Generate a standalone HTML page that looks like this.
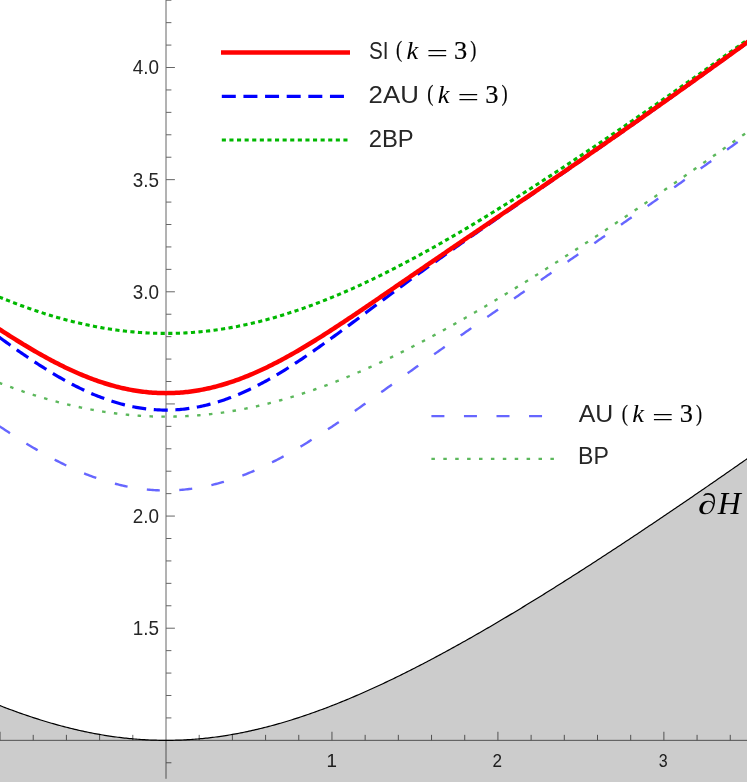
<!DOCTYPE html>
<html><head><meta charset="utf-8"><title>Chart</title>
<style>
html,body{margin:0;padding:0;background:#ffffff;}
body{width:747px;height:782px;overflow:hidden;font-family:"Liberation Sans",sans-serif;}
svg{display:block;}
</style></head><body>
<svg width="747" height="782" viewBox="0 0 747 782">
<rect x="0" y="0" width="747" height="782" fill="#ffffff"/>
<g stroke="#666666" stroke-width="1" fill="none">
<line x1="0" y1="740.35" x2="747" y2="740.35"/>
<line x1="166.0" y1="0" x2="166.0" y2="778.8"/>
<line x1="166.00" y1="762.78" x2="171.40" y2="762.78"/>
<line x1="166.00" y1="717.92" x2="171.40" y2="717.92"/>
<line x1="166.00" y1="695.49" x2="171.40" y2="695.49"/>
<line x1="166.00" y1="673.07" x2="171.40" y2="673.07"/>
<line x1="166.00" y1="650.64" x2="171.40" y2="650.64"/>
<line x1="166.00" y1="628.21" x2="174.90" y2="628.21"/>
<line x1="166.00" y1="605.78" x2="171.40" y2="605.78"/>
<line x1="166.00" y1="583.35" x2="171.40" y2="583.35"/>
<line x1="166.00" y1="560.93" x2="171.40" y2="560.93"/>
<line x1="166.00" y1="538.50" x2="171.40" y2="538.50"/>
<line x1="166.00" y1="516.07" x2="174.90" y2="516.07"/>
<line x1="166.00" y1="493.64" x2="171.40" y2="493.64"/>
<line x1="166.00" y1="471.21" x2="171.40" y2="471.21"/>
<line x1="166.00" y1="448.79" x2="171.40" y2="448.79"/>
<line x1="166.00" y1="426.36" x2="171.40" y2="426.36"/>
<line x1="166.00" y1="403.93" x2="174.90" y2="403.93"/>
<line x1="166.00" y1="381.50" x2="171.40" y2="381.50"/>
<line x1="166.00" y1="359.07" x2="171.40" y2="359.07"/>
<line x1="166.00" y1="336.65" x2="171.40" y2="336.65"/>
<line x1="166.00" y1="314.22" x2="171.40" y2="314.22"/>
<line x1="166.00" y1="291.79" x2="174.90" y2="291.79"/>
<line x1="166.00" y1="269.36" x2="171.40" y2="269.36"/>
<line x1="166.00" y1="246.93" x2="171.40" y2="246.93"/>
<line x1="166.00" y1="224.51" x2="171.40" y2="224.51"/>
<line x1="166.00" y1="202.08" x2="171.40" y2="202.08"/>
<line x1="166.00" y1="179.65" x2="174.90" y2="179.65"/>
<line x1="166.00" y1="157.22" x2="171.40" y2="157.22"/>
<line x1="166.00" y1="134.79" x2="171.40" y2="134.79"/>
<line x1="166.00" y1="112.37" x2="171.40" y2="112.37"/>
<line x1="166.00" y1="89.94" x2="171.40" y2="89.94"/>
<line x1="166.00" y1="67.51" x2="174.90" y2="67.51"/>
<line x1="166.00" y1="45.08" x2="171.40" y2="45.08"/>
<line x1="166.00" y1="22.65" x2="171.40" y2="22.65"/>
<line x1="166.00" y1="0.23" x2="171.40" y2="0.23"/>
<line x1="0.04" y1="740.35" x2="0.04" y2="731.75"/>
<line x1="33.23" y1="740.35" x2="33.23" y2="734.85"/>
<line x1="66.42" y1="740.35" x2="66.42" y2="734.85"/>
<line x1="99.62" y1="740.35" x2="99.62" y2="734.85"/>
<line x1="132.81" y1="740.35" x2="132.81" y2="734.85"/>
<line x1="199.19" y1="740.35" x2="199.19" y2="734.85"/>
<line x1="232.38" y1="740.35" x2="232.38" y2="734.85"/>
<line x1="265.58" y1="740.35" x2="265.58" y2="734.85"/>
<line x1="298.77" y1="740.35" x2="298.77" y2="734.85"/>
<line x1="331.96" y1="740.35" x2="331.96" y2="731.75"/>
<line x1="365.15" y1="740.35" x2="365.15" y2="734.85"/>
<line x1="398.34" y1="740.35" x2="398.34" y2="734.85"/>
<line x1="431.54" y1="740.35" x2="431.54" y2="734.85"/>
<line x1="464.73" y1="740.35" x2="464.73" y2="734.85"/>
<line x1="497.92" y1="740.35" x2="497.92" y2="731.75"/>
<line x1="531.11" y1="740.35" x2="531.11" y2="734.85"/>
<line x1="564.30" y1="740.35" x2="564.30" y2="734.85"/>
<line x1="597.50" y1="740.35" x2="597.50" y2="734.85"/>
<line x1="630.69" y1="740.35" x2="630.69" y2="734.85"/>
<line x1="663.88" y1="740.35" x2="663.88" y2="731.75"/>
<line x1="697.07" y1="740.35" x2="697.07" y2="734.85"/>
<line x1="730.26" y1="740.35" x2="730.26" y2="734.85"/>
</g>
<g opacity="0.999">
<text transform="translate(132.74,635.11) scale(0.9540,1)" font-family="Liberation Sans" font-style="normal" font-size="19.80" fill="#262626" style="font-kerning:none">1.5</text>
<text transform="translate(132.68,522.97) scale(0.9540,1)" font-family="Liberation Sans" font-style="normal" font-size="19.80" fill="#262626" style="font-kerning:none">2.0</text>
<text transform="translate(132.68,298.69) scale(0.9540,1)" font-family="Liberation Sans" font-style="normal" font-size="19.80" fill="#262626" style="font-kerning:none">3.0</text>
<text transform="translate(132.74,186.55) scale(0.9540,1)" font-family="Liberation Sans" font-style="normal" font-size="19.80" fill="#262626" style="font-kerning:none">3.5</text>
<text transform="translate(132.68,74.41) scale(0.9540,1)" font-family="Liberation Sans" font-style="normal" font-size="19.80" fill="#262626" style="font-kerning:none">4.0</text>
<text transform="translate(326.5,766.5)" font-family="Liberation Sans" font-size="18.8" fill="#262626">1</text>
<text transform="translate(492.44,766.50) scale(0.9196,1)" font-family="Liberation Sans" font-style="normal" font-size="18.62" fill="#262626" style="font-kerning:none" >2</text>
<text transform="translate(658.69,766.62) scale(0.8533,1)" font-family="Liberation Sans" font-style="normal" font-size="18.79" fill="#262626" style="font-kerning:none" >3</text>
</g>
<path d="M-3.28,784 L-3.28,704.35 L-1.62,705.00 L0.04,705.65 L1.70,706.30 L3.36,706.94 L5.02,707.57 L6.68,708.20 L8.34,708.83 L10.00,709.45 L11.66,710.06 L13.32,710.67 L14.98,711.28 L16.64,711.88 L18.30,712.47 L19.96,713.06 L21.61,713.65 L23.27,714.23 L24.93,714.80 L26.59,715.37 L28.25,715.93 L29.91,716.49 L31.57,717.04 L33.23,717.58 L34.89,718.12 L36.55,718.66 L38.21,719.19 L39.87,719.71 L41.53,720.23 L43.19,720.74 L44.85,721.24 L46.51,721.74 L48.17,722.24 L49.83,722.73 L51.49,723.21 L53.15,723.68 L54.81,724.15 L56.47,724.62 L58.13,725.08 L59.79,725.53 L61.45,725.97 L63.10,726.41 L64.76,726.85 L66.42,727.27 L68.08,727.70 L69.74,728.11 L71.40,728.52 L73.06,728.92 L74.72,729.31 L76.38,729.70 L78.04,730.08 L79.70,730.46 L81.36,730.83 L83.02,731.19 L84.68,731.55 L86.34,731.90 L88.00,732.24 L89.66,732.58 L91.32,732.90 L92.98,733.23 L94.64,733.54 L96.30,733.85 L97.96,734.15 L99.62,734.45 L101.28,734.73 L102.94,735.02 L104.59,735.29 L106.25,735.56 L107.91,735.82 L109.57,736.07 L111.23,736.32 L112.89,736.55 L114.55,736.79 L116.21,737.01 L117.87,737.23 L119.53,737.44 L121.19,737.64 L122.85,737.84 L124.51,738.03 L126.17,738.21 L127.83,738.38 L129.49,738.55 L131.15,738.71 L132.81,738.86 L134.47,739.00 L136.13,739.14 L137.79,739.27 L139.45,739.40 L141.11,739.51 L142.77,739.62 L144.43,739.72 L146.08,739.81 L147.74,739.90 L149.40,739.98 L151.06,740.05 L152.72,740.11 L154.38,740.17 L156.04,740.22 L157.70,740.26 L159.36,740.29 L161.02,740.32 L162.68,740.34 L164.34,740.35 L166.00,740.35 L167.66,740.35 L169.32,740.34 L170.98,740.32 L172.64,740.29 L174.30,740.26 L175.96,740.22 L177.62,740.17 L179.28,740.11 L180.94,740.05 L182.60,739.98 L184.26,739.90 L185.92,739.81 L187.57,739.72 L189.23,739.62 L190.89,739.51 L192.55,739.40 L194.21,739.27 L195.87,739.14 L197.53,739.00 L199.19,738.86 L200.85,738.71 L202.51,738.55 L204.17,738.38 L205.83,738.21 L207.49,738.03 L209.15,737.84 L210.81,737.64 L212.47,737.44 L214.13,737.23 L215.79,737.01 L217.45,736.79 L219.11,736.55 L220.77,736.32 L222.43,736.07 L224.09,735.82 L225.75,735.56 L227.41,735.29 L229.06,735.02 L230.72,734.73 L232.38,734.45 L234.04,734.15 L235.70,733.85 L237.36,733.54 L239.02,733.23 L240.68,732.90 L242.34,732.58 L244.00,732.24 L245.66,731.90 L247.32,731.55 L248.98,731.19 L250.64,730.83 L252.30,730.46 L253.96,730.08 L255.62,729.70 L257.28,729.31 L258.94,728.92 L260.60,728.52 L262.26,728.11 L263.92,727.70 L265.58,727.27 L267.24,726.85 L268.90,726.41 L270.55,725.97 L272.21,725.53 L273.87,725.08 L275.53,724.62 L277.19,724.15 L278.85,723.68 L280.51,723.21 L282.17,722.73 L283.83,722.24 L285.49,721.74 L287.15,721.24 L288.81,720.74 L290.47,720.23 L292.13,719.71 L293.79,719.19 L295.45,718.66 L297.11,718.12 L298.77,717.58 L300.43,717.04 L302.09,716.49 L303.75,715.93 L305.41,715.37 L307.07,714.80 L308.73,714.23 L310.39,713.65 L312.04,713.06 L313.70,712.47 L315.36,711.88 L317.02,711.28 L318.68,710.67 L320.34,710.06 L322.00,709.45 L323.66,708.83 L325.32,708.20 L326.98,707.57 L328.64,706.94 L330.30,706.30 L331.96,705.65 L333.62,705.00 L335.28,704.35 L336.94,703.69 L338.60,703.03 L340.26,702.36 L341.92,701.68 L343.58,701.00 L345.24,700.32 L346.90,699.63 L348.56,698.94 L350.22,698.25 L351.88,697.55 L353.53,696.84 L355.19,696.13 L356.85,695.42 L358.51,694.70 L360.17,693.98 L361.83,693.25 L363.49,692.52 L365.15,691.78 L366.81,691.04 L368.47,690.30 L370.13,689.55 L371.79,688.80 L373.45,688.04 L375.11,687.28 L376.77,686.52 L378.43,685.75 L380.09,684.98 L381.75,684.21 L383.41,683.43 L385.07,682.64 L386.73,681.86 L388.39,681.07 L390.05,680.27 L391.71,679.47 L393.37,678.67 L395.02,677.87 L396.68,677.06 L398.34,676.25 L400.00,675.43 L401.66,674.61 L403.32,673.79 L404.98,672.96 L406.64,672.13 L408.30,671.30 L409.96,670.46 L411.62,669.62 L413.28,668.78 L414.94,667.94 L416.60,667.09 L418.26,666.23 L419.92,665.38 L421.58,664.52 L423.24,663.66 L424.90,662.79 L426.56,661.92 L428.22,661.05 L429.88,660.18 L431.54,659.30 L433.20,658.42 L434.86,657.54 L436.51,656.65 L438.17,655.76 L439.83,654.87 L441.49,653.98 L443.15,653.08 L444.81,652.18 L446.47,651.28 L448.13,650.37 L449.79,649.46 L451.45,648.55 L453.11,647.64 L454.77,646.72 L456.43,645.80 L458.09,644.88 L459.75,643.96 L461.41,643.03 L463.07,642.10 L464.73,641.17 L466.39,640.23 L468.05,639.30 L469.71,638.36 L471.37,637.42 L473.03,636.47 L474.69,635.53 L476.35,634.58 L478.00,633.63 L479.66,632.67 L481.32,631.72 L482.98,630.76 L484.64,629.80 L486.30,628.84 L487.96,627.87 L489.62,626.90 L491.28,625.94 L492.94,624.96 L494.60,623.99 L496.26,623.01 L497.92,622.04 L499.58,621.06 L501.24,620.07 L502.90,619.09 L504.56,618.10 L506.22,617.12 L507.88,616.13 L509.54,615.13 L511.20,614.14 L512.86,613.14 L514.52,612.15 L516.18,611.15 L517.84,610.14 L519.49,609.14 L521.15,608.14 L522.81,607.13 L524.47,606.12 L526.13,605.11 L527.79,604.09 L529.45,603.08 L531.11,602.06 L532.77,601.04 L534.43,600.02 L536.09,599.00 L537.75,597.98 L539.41,596.95 L541.07,595.93 L542.73,594.90 L544.39,593.87 L546.05,592.84 L547.71,591.80 L549.37,590.77 L551.03,589.73 L552.69,588.69 L554.35,587.65 L556.01,586.61 L557.67,585.57 L559.33,584.52 L560.98,583.48 L562.64,582.43 L564.30,581.38 L565.96,580.33 L567.62,579.28 L569.28,578.22 L570.94,577.17 L572.60,576.11 L574.26,575.05 L575.92,573.99 L577.58,572.93 L579.24,571.87 L580.90,570.81 L582.56,569.74 L584.22,568.68 L585.88,567.61 L587.54,566.54 L589.20,565.47 L590.86,564.40 L592.52,563.32 L594.18,562.25 L595.84,561.17 L597.50,560.10 L599.16,559.02 L600.82,557.94 L602.47,556.86 L604.13,555.78 L605.79,554.69 L607.45,553.61 L609.11,552.52 L610.77,551.44 L612.43,550.35 L614.09,549.26 L615.75,548.17 L617.41,547.08 L619.07,545.98 L620.73,544.89 L622.39,543.79 L624.05,542.70 L625.71,541.60 L627.37,540.50 L629.03,539.40 L630.69,538.30 L632.35,537.20 L634.01,536.10 L635.67,534.99 L637.33,533.89 L638.99,532.78 L640.65,531.67 L642.31,530.57 L643.96,529.46 L645.62,528.35 L647.28,527.24 L648.94,526.12 L650.60,525.01 L652.26,523.90 L653.92,522.78 L655.58,521.67 L657.24,520.55 L658.90,519.43 L660.56,518.31 L662.22,517.19 L663.88,516.07 L665.54,514.95 L667.20,513.83 L668.86,512.70 L670.52,511.58 L672.18,510.45 L673.84,509.33 L675.50,508.20 L677.16,507.07 L678.82,505.94 L680.48,504.81 L682.14,503.68 L683.80,502.55 L685.45,501.42 L687.11,500.28 L688.77,499.15 L690.43,498.01 L692.09,496.88 L693.75,495.74 L695.41,494.60 L697.07,493.46 L698.73,492.32 L700.39,491.18 L702.05,490.04 L703.71,488.90 L705.37,487.76 L707.03,486.62 L708.69,485.47 L710.35,484.33 L712.01,483.18 L713.67,482.04 L715.33,480.89 L716.99,479.74 L718.65,478.59 L720.31,477.44 L721.97,476.29 L723.63,475.14 L725.29,473.99 L726.94,472.84 L728.60,471.69 L730.26,470.53 L731.92,469.38 L733.58,468.23 L735.24,467.07 L736.90,465.91 L738.56,464.76 L740.22,463.60 L741.88,462.44 L743.54,461.28 L745.20,460.12 L746.86,458.96 L748.52,457.80 L750.18,456.64 L750.18,784 Z" fill="#000000" fill-opacity="0.2"/>
<path d="M-3.28,704.35 L-1.62,705.00 L0.04,705.65 L1.70,706.30 L3.36,706.94 L5.02,707.57 L6.68,708.20 L8.34,708.83 L10.00,709.45 L11.66,710.06 L13.32,710.67 L14.98,711.28 L16.64,711.88 L18.30,712.47 L19.96,713.06 L21.61,713.65 L23.27,714.23 L24.93,714.80 L26.59,715.37 L28.25,715.93 L29.91,716.49 L31.57,717.04 L33.23,717.58 L34.89,718.12 L36.55,718.66 L38.21,719.19 L39.87,719.71 L41.53,720.23 L43.19,720.74 L44.85,721.24 L46.51,721.74 L48.17,722.24 L49.83,722.73 L51.49,723.21 L53.15,723.68 L54.81,724.15 L56.47,724.62 L58.13,725.08 L59.79,725.53 L61.45,725.97 L63.10,726.41 L64.76,726.85 L66.42,727.27 L68.08,727.70 L69.74,728.11 L71.40,728.52 L73.06,728.92 L74.72,729.31 L76.38,729.70 L78.04,730.08 L79.70,730.46 L81.36,730.83 L83.02,731.19 L84.68,731.55 L86.34,731.90 L88.00,732.24 L89.66,732.58 L91.32,732.90 L92.98,733.23 L94.64,733.54 L96.30,733.85 L97.96,734.15 L99.62,734.45 L101.28,734.73 L102.94,735.02 L104.59,735.29 L106.25,735.56 L107.91,735.82 L109.57,736.07 L111.23,736.32 L112.89,736.55 L114.55,736.79 L116.21,737.01 L117.87,737.23 L119.53,737.44 L121.19,737.64 L122.85,737.84 L124.51,738.03 L126.17,738.21 L127.83,738.38 L129.49,738.55 L131.15,738.71 L132.81,738.86 L134.47,739.00 L136.13,739.14 L137.79,739.27 L139.45,739.40 L141.11,739.51 L142.77,739.62 L144.43,739.72 L146.08,739.81 L147.74,739.90 L149.40,739.98 L151.06,740.05 L152.72,740.11 L154.38,740.17 L156.04,740.22 L157.70,740.26 L159.36,740.29 L161.02,740.32 L162.68,740.34 L164.34,740.35 L166.00,740.35 L167.66,740.35 L169.32,740.34 L170.98,740.32 L172.64,740.29 L174.30,740.26 L175.96,740.22 L177.62,740.17 L179.28,740.11 L180.94,740.05 L182.60,739.98 L184.26,739.90 L185.92,739.81 L187.57,739.72 L189.23,739.62 L190.89,739.51 L192.55,739.40 L194.21,739.27 L195.87,739.14 L197.53,739.00 L199.19,738.86 L200.85,738.71 L202.51,738.55 L204.17,738.38 L205.83,738.21 L207.49,738.03 L209.15,737.84 L210.81,737.64 L212.47,737.44 L214.13,737.23 L215.79,737.01 L217.45,736.79 L219.11,736.55 L220.77,736.32 L222.43,736.07 L224.09,735.82 L225.75,735.56 L227.41,735.29 L229.06,735.02 L230.72,734.73 L232.38,734.45 L234.04,734.15 L235.70,733.85 L237.36,733.54 L239.02,733.23 L240.68,732.90 L242.34,732.58 L244.00,732.24 L245.66,731.90 L247.32,731.55 L248.98,731.19 L250.64,730.83 L252.30,730.46 L253.96,730.08 L255.62,729.70 L257.28,729.31 L258.94,728.92 L260.60,728.52 L262.26,728.11 L263.92,727.70 L265.58,727.27 L267.24,726.85 L268.90,726.41 L270.55,725.97 L272.21,725.53 L273.87,725.08 L275.53,724.62 L277.19,724.15 L278.85,723.68 L280.51,723.21 L282.17,722.73 L283.83,722.24 L285.49,721.74 L287.15,721.24 L288.81,720.74 L290.47,720.23 L292.13,719.71 L293.79,719.19 L295.45,718.66 L297.11,718.12 L298.77,717.58 L300.43,717.04 L302.09,716.49 L303.75,715.93 L305.41,715.37 L307.07,714.80 L308.73,714.23 L310.39,713.65 L312.04,713.06 L313.70,712.47 L315.36,711.88 L317.02,711.28 L318.68,710.67 L320.34,710.06 L322.00,709.45 L323.66,708.83 L325.32,708.20 L326.98,707.57 L328.64,706.94 L330.30,706.30 L331.96,705.65 L333.62,705.00 L335.28,704.35 L336.94,703.69 L338.60,703.03 L340.26,702.36 L341.92,701.68 L343.58,701.00 L345.24,700.32 L346.90,699.63 L348.56,698.94 L350.22,698.25 L351.88,697.55 L353.53,696.84 L355.19,696.13 L356.85,695.42 L358.51,694.70 L360.17,693.98 L361.83,693.25 L363.49,692.52 L365.15,691.78 L366.81,691.04 L368.47,690.30 L370.13,689.55 L371.79,688.80 L373.45,688.04 L375.11,687.28 L376.77,686.52 L378.43,685.75 L380.09,684.98 L381.75,684.21 L383.41,683.43 L385.07,682.64 L386.73,681.86 L388.39,681.07 L390.05,680.27 L391.71,679.47 L393.37,678.67 L395.02,677.87 L396.68,677.06 L398.34,676.25 L400.00,675.43 L401.66,674.61 L403.32,673.79 L404.98,672.96 L406.64,672.13 L408.30,671.30 L409.96,670.46 L411.62,669.62 L413.28,668.78 L414.94,667.94 L416.60,667.09 L418.26,666.23 L419.92,665.38 L421.58,664.52 L423.24,663.66 L424.90,662.79 L426.56,661.92 L428.22,661.05 L429.88,660.18 L431.54,659.30 L433.20,658.42 L434.86,657.54 L436.51,656.65 L438.17,655.76 L439.83,654.87 L441.49,653.98 L443.15,653.08 L444.81,652.18 L446.47,651.28 L448.13,650.37 L449.79,649.46 L451.45,648.55 L453.11,647.64 L454.77,646.72 L456.43,645.80 L458.09,644.88 L459.75,643.96 L461.41,643.03 L463.07,642.10 L464.73,641.17 L466.39,640.23 L468.05,639.30 L469.71,638.36 L471.37,637.42 L473.03,636.47 L474.69,635.53 L476.35,634.58 L478.00,633.63 L479.66,632.67 L481.32,631.72 L482.98,630.76 L484.64,629.80 L486.30,628.84 L487.96,627.87 L489.62,626.90 L491.28,625.94 L492.94,624.96 L494.60,623.99 L496.26,623.01 L497.92,622.04 L499.58,621.06 L501.24,620.07 L502.90,619.09 L504.56,618.10 L506.22,617.12 L507.88,616.13 L509.54,615.13 L511.20,614.14 L512.86,613.14 L514.52,612.15 L516.18,611.15 L517.84,610.14 L519.49,609.14 L521.15,608.14 L522.81,607.13 L524.47,606.12 L526.13,605.11 L527.79,604.09 L529.45,603.08 L531.11,602.06 L532.77,601.04 L534.43,600.02 L536.09,599.00 L537.75,597.98 L539.41,596.95 L541.07,595.93 L542.73,594.90 L544.39,593.87 L546.05,592.84 L547.71,591.80 L549.37,590.77 L551.03,589.73 L552.69,588.69 L554.35,587.65 L556.01,586.61 L557.67,585.57 L559.33,584.52 L560.98,583.48 L562.64,582.43 L564.30,581.38 L565.96,580.33 L567.62,579.28 L569.28,578.22 L570.94,577.17 L572.60,576.11 L574.26,575.05 L575.92,573.99 L577.58,572.93 L579.24,571.87 L580.90,570.81 L582.56,569.74 L584.22,568.68 L585.88,567.61 L587.54,566.54 L589.20,565.47 L590.86,564.40 L592.52,563.32 L594.18,562.25 L595.84,561.17 L597.50,560.10 L599.16,559.02 L600.82,557.94 L602.47,556.86 L604.13,555.78 L605.79,554.69 L607.45,553.61 L609.11,552.52 L610.77,551.44 L612.43,550.35 L614.09,549.26 L615.75,548.17 L617.41,547.08 L619.07,545.98 L620.73,544.89 L622.39,543.79 L624.05,542.70 L625.71,541.60 L627.37,540.50 L629.03,539.40 L630.69,538.30 L632.35,537.20 L634.01,536.10 L635.67,534.99 L637.33,533.89 L638.99,532.78 L640.65,531.67 L642.31,530.57 L643.96,529.46 L645.62,528.35 L647.28,527.24 L648.94,526.12 L650.60,525.01 L652.26,523.90 L653.92,522.78 L655.58,521.67 L657.24,520.55 L658.90,519.43 L660.56,518.31 L662.22,517.19 L663.88,516.07 L665.54,514.95 L667.20,513.83 L668.86,512.70 L670.52,511.58 L672.18,510.45 L673.84,509.33 L675.50,508.20 L677.16,507.07 L678.82,505.94 L680.48,504.81 L682.14,503.68 L683.80,502.55 L685.45,501.42 L687.11,500.28 L688.77,499.15 L690.43,498.01 L692.09,496.88 L693.75,495.74 L695.41,494.60 L697.07,493.46 L698.73,492.32 L700.39,491.18 L702.05,490.04 L703.71,488.90 L705.37,487.76 L707.03,486.62 L708.69,485.47 L710.35,484.33 L712.01,483.18 L713.67,482.04 L715.33,480.89 L716.99,479.74 L718.65,478.59 L720.31,477.44 L721.97,476.29 L723.63,475.14 L725.29,473.99 L726.94,472.84 L728.60,471.69 L730.26,470.53 L731.92,469.38 L733.58,468.23 L735.24,467.07 L736.90,465.91 L738.56,464.76 L740.22,463.60 L741.88,462.44 L743.54,461.28 L745.20,460.12 L746.86,458.96 L748.52,457.80 L750.18,456.64" fill="none" stroke="#000000" stroke-width="1.2"/>
<g fill="none" stroke-linecap="butt" stroke-linejoin="round">
<path d="M-6.60,380.53 L-4.94,381.19 L-3.28,381.84 L-1.62,382.49 L0.04,383.13 L1.70,383.76 L3.36,384.39 L5.02,385.02 L6.68,385.64 L8.34,386.25 L10.00,386.86 L11.66,387.47 L13.32,388.07 L14.98,388.66 L16.64,389.25 L18.30,389.83 L19.96,390.41 L21.61,390.98 L23.27,391.54 L24.93,392.10 L26.59,392.66 L28.25,393.21 L29.91,393.75 L31.57,394.29 L33.23,394.82 L34.89,395.34 L36.55,395.86 L38.21,396.38 L39.87,396.89 L41.53,397.39 L43.19,397.89 L44.85,398.38 L46.51,398.86 L48.17,399.34 L49.83,399.81 L51.49,400.28 L53.15,400.74 L54.81,401.19 L56.47,401.64 L58.13,402.08 L59.79,402.52 L61.45,402.95 L63.10,403.37 L64.76,403.79 L66.42,404.20 L68.08,404.61 L69.74,405.00 L71.40,405.40 L73.06,405.78 L74.72,406.16 L76.38,406.53 L78.04,406.90 L79.70,407.26 L81.36,407.61 L83.02,407.96 L84.68,408.30 L86.34,408.63 L88.00,408.96 L89.66,409.28 L91.32,409.60 L92.98,409.90 L94.64,410.20 L96.30,410.50 L97.96,410.79 L99.62,411.07 L101.28,411.34 L102.94,411.61 L104.59,411.87 L106.25,412.12 L107.91,412.37 L109.57,412.61 L111.23,412.84 L112.89,413.07 L114.55,413.29 L116.21,413.50 L117.87,413.71 L119.53,413.91 L121.19,414.10 L122.85,414.29 L124.51,414.46 L126.17,414.64 L127.83,414.80 L129.49,414.96 L131.15,415.11 L132.81,415.25 L134.47,415.39 L136.13,415.52 L137.79,415.64 L139.45,415.76 L141.11,415.87 L142.77,415.97 L144.43,416.06 L146.08,416.15 L147.74,416.23 L149.40,416.31 L151.06,416.37 L152.72,416.43 L154.38,416.49 L156.04,416.53 L157.70,416.57 L159.36,416.60 L161.02,416.63 L162.68,416.65 L164.34,416.66 L166.00,416.66 L167.66,416.66 L169.32,416.65 L170.98,416.63 L172.64,416.60 L174.30,416.57 L175.96,416.53 L177.62,416.49 L179.28,416.43 L180.94,416.37 L182.60,416.31 L184.26,416.23 L185.92,416.15 L187.57,416.06 L189.23,415.97 L190.89,415.87 L192.55,415.76 L194.21,415.64 L195.87,415.52 L197.53,415.39 L199.19,415.25 L200.85,415.11 L202.51,414.96 L204.17,414.80 L205.83,414.64 L207.49,414.46 L209.15,414.29 L210.81,414.10 L212.47,413.91 L214.13,413.71 L215.79,413.50 L217.45,413.29 L219.11,413.07 L220.77,412.84 L222.43,412.61 L224.09,412.37 L225.75,412.12 L227.41,411.87 L229.06,411.61 L230.72,411.34 L232.38,411.07 L234.04,410.79 L235.70,410.50 L237.36,410.20 L239.02,409.90 L240.68,409.60 L242.34,409.28 L244.00,408.96 L245.66,408.63 L247.32,408.30 L248.98,407.96 L250.64,407.61 L252.30,407.26 L253.96,406.90 L255.62,406.53 L257.28,406.16 L258.94,405.78 L260.60,405.40 L262.26,405.00 L263.92,404.61 L265.58,404.20 L267.24,403.79 L268.90,403.37 L270.55,402.95 L272.21,402.52 L273.87,402.08 L275.53,401.64 L277.19,401.19 L278.85,400.74 L280.51,400.28 L282.17,399.81 L283.83,399.34 L285.49,398.86 L287.15,398.38 L288.81,397.89 L290.47,397.39 L292.13,396.89 L293.79,396.38 L295.45,395.86 L297.11,395.34 L298.77,394.82 L300.43,394.29 L302.09,393.75 L303.75,393.21 L305.41,392.66 L307.07,392.10 L308.73,391.54 L310.39,390.98 L312.04,390.41 L313.70,389.83 L315.36,389.25 L317.02,388.66 L318.68,388.07 L320.34,387.47 L322.00,386.86 L323.66,386.25 L325.32,385.64 L326.98,385.02 L328.64,384.39 L330.30,383.76 L331.96,383.13 L333.62,382.49 L335.28,381.84 L336.94,381.19 L338.60,380.53 L340.26,379.87 L341.92,379.21 L343.58,378.53 L345.24,377.86 L346.90,377.18 L348.56,376.49 L350.22,375.80 L351.88,375.10 L353.53,374.40 L355.19,373.70 L356.85,372.99 L358.51,372.27 L360.17,371.55 L361.83,370.83 L363.49,370.10 L365.15,369.37 L366.81,368.63 L368.47,367.89 L370.13,367.14 L371.79,366.39 L373.45,365.64 L375.11,364.88 L376.77,364.11 L378.43,363.35 L380.09,362.57 L381.75,361.80 L383.41,361.02 L385.07,360.23 L386.73,359.44 L388.39,358.65 L390.05,357.85 L391.71,357.05 L393.37,356.24 L395.02,355.43 L396.68,354.62 L398.34,353.80 L400.00,352.98 L401.66,352.16 L403.32,351.33 L404.98,350.50 L406.64,349.66 L408.30,348.82 L409.96,347.98 L411.62,347.13 L413.28,346.28 L414.94,345.42 L416.60,344.56 L418.26,343.70 L419.92,342.84 L421.58,341.97 L423.24,341.10 L424.90,340.22 L426.56,339.34 L428.22,338.46 L429.88,337.58 L431.54,336.69 L433.20,335.79 L434.86,334.90 L436.51,334.00 L438.17,333.10 L439.83,332.19 L441.49,331.29 L443.15,330.37 L444.81,329.46 L446.47,328.54 L448.13,327.62 L449.79,326.70 L451.45,325.77 L453.11,324.84 L454.77,323.91 L456.43,322.98 L458.09,322.04 L459.75,321.10 L461.41,320.16 L463.07,319.21 L464.73,318.26 L466.39,317.31 L468.05,316.36 L469.71,315.40 L471.37,314.44 L473.03,313.48 L474.69,312.51 L476.35,311.55 L478.00,310.58 L479.66,309.60 L481.32,308.63 L482.98,307.65 L484.64,306.67 L486.30,305.69 L487.96,304.70 L489.62,303.72 L491.28,302.73 L492.94,301.74 L494.60,300.74 L496.26,299.75 L497.92,298.75 L499.58,297.75 L501.24,296.74 L502.90,295.74 L504.56,294.73 L506.22,293.72 L507.88,292.71 L509.54,291.70 L511.20,290.68 L512.86,289.66 L514.52,288.64 L516.18,287.62 L517.84,286.60 L519.49,285.57 L521.15,284.54 L522.81,283.51 L524.47,282.48 L526.13,281.45 L527.79,280.41 L529.45,279.37 L531.11,278.34 L532.77,277.29 L534.43,276.25 L536.09,275.21 L537.75,274.16 L539.41,273.11 L541.07,272.06 L542.73,271.01 L544.39,269.95 L546.05,268.90 L547.71,267.84 L549.37,266.78 L551.03,265.72 L552.69,264.66 L554.35,263.60 L556.01,262.53 L557.67,261.47 L559.33,260.40 L560.98,259.33 L562.64,258.26 L564.30,257.18 L565.96,256.11 L567.62,255.03 L569.28,253.95 L570.94,252.88 L572.60,251.80 L574.26,250.71 L575.92,249.63 L577.58,248.54 L579.24,247.46 L580.90,246.37 L582.56,245.28 L584.22,244.19 L585.88,243.10 L587.54,242.01 L589.20,240.91 L590.86,239.82 L592.52,238.72 L594.18,237.62 L595.84,236.52 L597.50,235.42 L599.16,234.32 L600.82,233.22 L602.47,232.11 L604.13,231.01 L605.79,229.90 L607.45,228.79 L609.11,227.68 L610.77,226.57 L612.43,225.46 L614.09,224.35 L615.75,223.23 L617.41,222.12 L619.07,221.00 L620.73,219.88 L622.39,218.77 L624.05,217.65 L625.71,216.53 L627.37,215.40 L629.03,214.28 L630.69,213.16 L632.35,212.03 L634.01,210.91 L635.67,209.78 L637.33,208.65 L638.99,207.52 L640.65,206.39 L642.31,205.26 L643.96,204.13 L645.62,203.00 L647.28,201.87 L648.94,200.73 L650.60,199.59 L652.26,198.46 L653.92,197.32 L655.58,196.18 L657.24,195.04 L658.90,193.90 L660.56,192.76 L662.22,191.62 L663.88,190.48 L665.54,189.33 L667.20,188.19 L668.86,187.04 L670.52,185.90 L672.18,184.75 L673.84,183.60 L675.50,182.45 L677.16,181.30 L678.82,180.15 L680.48,179.00 L682.14,177.85 L683.80,176.70 L685.45,175.54 L687.11,174.39 L688.77,173.23 L690.43,172.08 L692.09,170.92 L693.75,169.76 L695.41,168.60 L697.07,167.45 L698.73,166.29 L700.39,165.13 L702.05,163.96 L703.71,162.80 L705.37,161.64 L707.03,160.48 L708.69,159.31 L710.35,158.15 L712.01,156.98 L713.67,155.82 L715.33,154.65 L716.99,153.48 L718.65,152.31 L720.31,151.15 L721.97,149.98 L723.63,148.81 L725.29,147.64 L726.94,146.46 L728.60,145.29 L730.26,144.12 L731.92,142.95 L733.58,141.77 L735.24,140.60 L736.90,139.42 L738.56,138.25 L740.22,137.07 L741.88,135.89 L743.54,134.72 L745.20,133.54 L746.86,132.36 L748.52,131.18 L750.18,130.00 L751.84,128.82 L753.50,127.64" stroke="#5cb85c" stroke-width="2.4" stroke-dasharray="3.5 8.412" stroke-dashoffset="5.88"/>
<path d="M-6.60,422.15 L-4.94,423.28 L-3.28,424.40 L-1.62,425.51 L0.04,426.63 L1.70,427.73 L3.36,428.84 L5.02,429.94 L6.68,431.03 L8.34,432.11 L10.00,433.20 L11.66,434.27 L13.32,435.34 L14.98,436.41 L16.64,437.46 L18.30,438.52 L19.96,439.56 L21.61,440.60 L23.27,441.63 L24.93,442.65 L26.59,443.67 L28.25,444.68 L29.91,445.68 L31.57,446.68 L33.23,447.67 L34.89,448.64 L36.55,449.62 L38.21,450.58 L39.87,451.53 L41.53,452.48 L43.19,453.42 L44.85,454.34 L46.51,455.26 L48.17,456.17 L49.83,457.07 L51.49,457.96 L53.15,458.85 L54.81,459.72 L56.47,460.58 L58.13,461.43 L59.79,462.27 L61.45,463.11 L63.10,463.93 L64.76,464.74 L66.42,465.54 L68.08,466.33 L69.74,467.11 L71.40,467.87 L73.06,468.63 L74.72,469.37 L76.38,470.11 L78.04,470.83 L79.70,471.54 L81.36,472.24 L83.02,472.92 L84.68,473.60 L86.34,474.26 L88.00,474.91 L89.66,475.55 L91.32,476.18 L92.98,476.79 L94.64,477.39 L96.30,477.98 L97.96,478.56 L99.62,479.12 L101.28,479.67 L102.94,480.21 L104.59,480.73 L106.25,481.24 L107.91,481.74 L109.57,482.22 L111.23,482.70 L112.89,483.15 L114.55,483.60 L116.21,484.03 L117.87,484.45 L119.53,484.85 L121.19,485.24 L122.85,485.62 L124.51,485.98 L126.17,486.33 L127.83,486.66 L129.49,486.99 L131.15,487.29 L132.81,487.59 L134.47,487.87 L136.13,488.13 L137.79,488.38 L139.45,488.62 L141.11,488.84 L142.77,489.05 L144.43,489.24 L146.08,489.42 L147.74,489.59 L149.40,489.74 L151.06,489.88 L152.72,490.00 L154.38,490.11 L156.04,490.20 L157.70,490.28 L159.36,490.34 L161.02,490.39 L162.68,490.43 L164.34,490.45 L166.00,490.46 L167.66,490.45 L169.32,490.43 L170.98,490.39 L172.64,490.34 L174.30,490.28 L175.96,490.20 L177.62,490.11 L179.28,490.00 L180.94,489.88 L182.60,489.74 L184.26,489.59 L185.92,489.42 L187.57,489.24 L189.23,489.05 L190.89,488.84 L192.55,488.62 L194.21,488.38 L195.87,488.13 L197.53,487.87 L199.19,487.59 L200.85,487.29 L202.51,486.99 L204.17,486.66 L205.83,486.33 L207.49,485.98 L209.15,485.62 L210.81,485.24 L212.47,484.85 L214.13,484.45 L215.79,484.03 L217.45,483.60 L219.11,483.15 L220.77,482.70 L222.43,482.22 L224.09,481.74 L225.75,481.24 L227.41,480.73 L229.06,480.21 L230.72,479.67 L232.38,479.12 L234.04,478.56 L235.70,477.98 L237.36,477.39 L239.02,476.79 L240.68,476.18 L242.34,475.55 L244.00,474.91 L245.66,474.26 L247.32,473.60 L248.98,472.92 L250.64,472.24 L252.30,471.54 L253.96,470.83 L255.62,470.11 L257.28,469.37 L258.94,468.63 L260.60,467.87 L262.26,467.11 L263.92,466.33 L265.58,465.54 L267.24,464.74 L268.90,463.93 L270.55,463.11 L272.21,462.27 L273.87,461.43 L275.53,460.58 L277.19,459.72 L278.85,458.85 L280.51,457.96 L282.17,457.07 L283.83,456.17 L285.49,455.26 L287.15,454.34 L288.81,453.42 L290.47,452.48 L292.13,451.53 L293.79,450.58 L295.45,449.62 L297.11,448.64 L298.77,447.67 L300.43,446.68 L302.09,445.68 L303.75,444.68 L305.41,443.67 L307.07,442.65 L308.73,441.63 L310.39,440.60 L312.04,439.56 L313.70,438.52 L315.36,437.46 L317.02,436.41 L318.68,435.34 L320.34,434.27 L322.00,433.20 L323.66,432.11 L325.32,431.03 L326.98,429.94 L328.64,428.84 L330.30,427.73 L331.96,426.63 L333.62,425.51 L335.28,424.40 L336.94,423.28 L338.60,422.15 L340.26,421.02 L341.92,419.89 L343.58,418.75 L345.24,417.61 L346.90,416.46 L348.56,415.32 L350.22,414.16 L351.88,413.01 L353.53,411.85 L355.19,410.69 L356.85,409.53 L358.51,408.36 L360.17,407.20 L361.83,406.03 L363.49,404.85 L365.15,403.68 L366.81,402.50 L368.47,401.33 L370.13,400.15 L371.79,398.97 L373.45,397.78 L375.11,396.60 L376.77,395.41 L378.43,394.23 L380.09,393.04 L381.75,391.85 L383.41,390.66 L385.07,389.47 L386.73,388.28 L388.39,387.09 L390.05,385.90 L391.71,384.71 L393.37,383.52 L395.02,382.33 L396.68,381.14 L398.34,379.94 L400.00,378.75 L401.66,377.56 L403.32,376.37 L404.98,375.18 L406.64,373.99 L408.30,372.80 L409.96,371.61 L411.62,370.42 L413.28,369.23 L414.94,368.04 L416.60,366.85 L418.26,365.66 L419.92,364.47 L421.58,363.29 L423.24,362.10 L424.90,360.92 L426.56,359.73 L428.22,358.55 L429.88,357.36 L431.54,356.18 L433.20,355.00 L434.86,353.82 L436.51,352.64 L438.17,351.46 L439.83,350.29 L441.49,349.11 L443.15,347.93 L444.81,346.76 L446.47,345.59 L448.13,344.41 L449.79,343.24 L451.45,342.07 L453.11,340.90 L454.77,339.73 L456.43,338.56 L458.09,337.40 L459.75,336.23 L461.41,335.06 L463.07,333.90 L464.73,332.74 L466.39,331.57 L468.05,330.41 L469.71,329.25 L471.37,328.09 L473.03,326.93 L474.69,325.77 L476.35,324.62 L478.00,323.46 L479.66,322.30 L481.32,321.15 L482.98,319.99 L484.64,318.84 L486.30,317.69 L487.96,316.54 L489.62,315.38 L491.28,314.23 L492.94,313.08 L494.60,311.93 L496.26,310.78 L497.92,309.64 L499.58,308.49 L501.24,307.34 L502.90,306.19 L504.56,305.05 L506.22,303.90 L507.88,302.76 L509.54,301.61 L511.20,300.47 L512.86,299.32 L514.52,298.18 L516.18,297.03 L517.84,295.89 L519.49,294.75 L521.15,293.60 L522.81,292.46 L524.47,291.32 L526.13,290.18 L527.79,289.04 L529.45,287.89 L531.11,286.75 L532.77,285.61 L534.43,284.47 L536.09,283.33 L537.75,282.19 L539.41,281.05 L541.07,279.90 L542.73,278.76 L544.39,277.62 L546.05,276.48 L547.71,275.34 L549.37,274.20 L551.03,273.06 L552.69,271.92 L554.35,270.77 L556.01,269.63 L557.67,268.49 L559.33,267.35 L560.98,266.21 L562.64,265.06 L564.30,263.92 L565.96,262.78 L567.62,261.64 L569.28,260.49 L570.94,259.35 L572.60,258.21 L574.26,257.06 L575.92,255.92 L577.58,254.77 L579.24,253.63 L580.90,252.48 L582.56,251.34 L584.22,250.19 L585.88,249.04 L587.54,247.90 L589.20,246.75 L590.86,245.60 L592.52,244.45 L594.18,243.31 L595.84,242.16 L597.50,241.01 L599.16,239.86 L600.82,238.71 L602.47,237.56 L604.13,236.41 L605.79,235.26 L607.45,234.10 L609.11,232.95 L610.77,231.80 L612.43,230.64 L614.09,229.49 L615.75,228.34 L617.41,227.18 L619.07,226.03 L620.73,224.87 L622.39,223.71 L624.05,222.56 L625.71,221.40 L627.37,220.24 L629.03,219.08 L630.69,217.92 L632.35,216.77 L634.01,215.61 L635.67,214.44 L637.33,213.28 L638.99,212.12 L640.65,210.96 L642.31,209.80 L643.96,208.63 L645.62,207.47 L647.28,206.30 L648.94,205.14 L650.60,203.97 L652.26,202.81 L653.92,201.64 L655.58,200.47 L657.24,199.31 L658.90,198.14 L660.56,196.97 L662.22,195.80 L663.88,194.63 L665.54,193.46 L667.20,192.29 L668.86,191.12 L670.52,189.94 L672.18,188.77 L673.84,187.60 L675.50,186.42 L677.16,185.25 L678.82,184.07 L680.48,182.90 L682.14,181.72 L683.80,180.55 L685.45,179.37 L687.11,178.19 L688.77,177.01 L690.43,175.83 L692.09,174.65 L693.75,173.47 L695.41,172.29 L697.07,171.11 L698.73,169.93 L700.39,168.75 L702.05,167.57 L703.71,166.38 L705.37,165.20 L707.03,164.02 L708.69,162.83 L710.35,161.65 L712.01,160.46 L713.67,159.27 L715.33,158.09 L716.99,156.90 L718.65,155.71 L720.31,154.52 L721.97,153.33 L723.63,152.15 L725.29,150.96 L726.94,149.77 L728.60,148.57 L730.26,147.38 L731.92,146.19 L733.58,145.00 L735.24,143.81 L736.90,142.61 L738.56,141.42 L740.22,140.23 L741.88,139.03 L743.54,137.84 L745.20,136.64 L746.86,135.45 L748.52,134.25 L750.18,133.05 L751.84,131.85 L753.50,130.66" stroke="#6666ff" stroke-width="2.4" stroke-dasharray="13 19.49" stroke-dashoffset="25.58"/>
<path d="M-6.60,294.57 L-4.94,295.26 L-3.28,295.96 L-1.62,296.65 L0.04,297.33 L1.70,298.01 L3.36,298.68 L5.02,299.34 L6.68,300.01 L8.34,300.66 L10.00,301.31 L11.66,301.96 L13.32,302.60 L14.98,303.23 L16.64,303.86 L18.30,304.48 L19.96,305.10 L21.61,305.71 L23.27,306.32 L24.93,306.92 L26.59,307.51 L28.25,308.10 L29.91,308.68 L31.57,309.26 L33.23,309.83 L34.89,310.39 L36.55,310.95 L38.21,311.50 L39.87,312.05 L41.53,312.59 L43.19,313.12 L44.85,313.65 L46.51,314.17 L48.17,314.68 L49.83,315.19 L51.49,315.69 L53.15,316.19 L54.81,316.68 L56.47,317.16 L58.13,317.64 L59.79,318.11 L61.45,318.57 L63.10,319.03 L64.76,319.48 L66.42,319.92 L68.08,320.36 L69.74,320.79 L71.40,321.21 L73.06,321.63 L74.72,322.04 L76.38,322.44 L78.04,322.84 L79.70,323.23 L81.36,323.61 L83.02,323.99 L84.68,324.35 L86.34,324.71 L88.00,325.07 L89.66,325.42 L91.32,325.76 L92.98,326.09 L94.64,326.42 L96.30,326.73 L97.96,327.05 L99.62,327.35 L101.28,327.65 L102.94,327.94 L104.59,328.22 L106.25,328.50 L107.91,328.76 L109.57,329.02 L111.23,329.28 L112.89,329.52 L114.55,329.76 L116.21,329.99 L117.87,330.22 L119.53,330.43 L121.19,330.64 L122.85,330.85 L124.51,331.04 L126.17,331.23 L127.83,331.41 L129.49,331.58 L131.15,331.74 L132.81,331.90 L134.47,332.05 L136.13,332.19 L137.79,332.32 L139.45,332.45 L141.11,332.57 L142.77,332.68 L144.43,332.78 L146.08,332.88 L147.74,332.96 L149.40,333.04 L151.06,333.12 L152.72,333.18 L154.38,333.24 L156.04,333.29 L157.70,333.33 L159.36,333.37 L161.02,333.39 L162.68,333.41 L164.34,333.42 L166.00,333.43 L167.66,333.42 L169.32,333.41 L170.98,333.39 L172.64,333.37 L174.30,333.33 L175.96,333.29 L177.62,333.24 L179.28,333.18 L180.94,333.12 L182.60,333.04 L184.26,332.96 L185.92,332.88 L187.57,332.78 L189.23,332.68 L190.89,332.57 L192.55,332.45 L194.21,332.32 L195.87,332.19 L197.53,332.05 L199.19,331.90 L200.85,331.74 L202.51,331.58 L204.17,331.41 L205.83,331.23 L207.49,331.04 L209.15,330.85 L210.81,330.64 L212.47,330.43 L214.13,330.22 L215.79,329.99 L217.45,329.76 L219.11,329.52 L220.77,329.28 L222.43,329.02 L224.09,328.76 L225.75,328.50 L227.41,328.22 L229.06,327.94 L230.72,327.65 L232.38,327.35 L234.04,327.05 L235.70,326.73 L237.36,326.42 L239.02,326.09 L240.68,325.76 L242.34,325.42 L244.00,325.07 L245.66,324.71 L247.32,324.35 L248.98,323.99 L250.64,323.61 L252.30,323.23 L253.96,322.84 L255.62,322.44 L257.28,322.04 L258.94,321.63 L260.60,321.21 L262.26,320.79 L263.92,320.36 L265.58,319.92 L267.24,319.48 L268.90,319.03 L270.55,318.57 L272.21,318.11 L273.87,317.64 L275.53,317.16 L277.19,316.68 L278.85,316.19 L280.51,315.69 L282.17,315.19 L283.83,314.68 L285.49,314.17 L287.15,313.65 L288.81,313.12 L290.47,312.59 L292.13,312.05 L293.79,311.50 L295.45,310.95 L297.11,310.39 L298.77,309.83 L300.43,309.26 L302.09,308.68 L303.75,308.10 L305.41,307.51 L307.07,306.92 L308.73,306.32 L310.39,305.71 L312.04,305.10 L313.70,304.48 L315.36,303.86 L317.02,303.23 L318.68,302.60 L320.34,301.96 L322.00,301.31 L323.66,300.66 L325.32,300.01 L326.98,299.34 L328.64,298.68 L330.30,298.01 L331.96,297.33 L333.62,296.65 L335.28,295.96 L336.94,295.26 L338.60,294.57 L340.26,293.86 L341.92,293.15 L343.58,292.44 L345.24,291.72 L346.90,291.00 L348.56,290.27 L350.22,289.54 L351.88,288.80 L353.53,288.06 L355.19,287.31 L356.85,286.56 L358.51,285.80 L360.17,285.04 L361.83,284.27 L363.49,283.50 L365.15,282.73 L366.81,281.95 L368.47,281.16 L370.13,280.38 L371.79,279.58 L373.45,278.79 L375.11,277.98 L376.77,277.18 L378.43,276.37 L380.09,275.55 L381.75,274.74 L383.41,273.91 L385.07,273.09 L386.73,272.26 L388.39,271.42 L390.05,270.58 L391.71,269.74 L393.37,268.90 L395.02,268.05 L396.68,267.19 L398.34,266.33 L400.00,265.47 L401.66,264.61 L403.32,263.74 L404.98,262.87 L406.64,261.99 L408.30,261.11 L409.96,260.23 L411.62,259.34 L413.28,258.45 L414.94,257.56 L416.60,256.66 L418.26,255.76 L419.92,254.86 L421.58,253.95 L423.24,253.04 L424.90,252.12 L426.56,251.21 L428.22,250.29 L429.88,249.37 L431.54,248.44 L433.20,247.51 L434.86,246.58 L436.51,245.64 L438.17,244.70 L439.83,243.76 L441.49,242.82 L443.15,241.87 L444.81,240.92 L446.47,239.97 L448.13,239.01 L449.79,238.06 L451.45,237.09 L453.11,236.13 L454.77,235.16 L456.43,234.20 L458.09,233.22 L459.75,232.25 L461.41,231.27 L463.07,230.29 L464.73,229.31 L466.39,228.33 L468.05,227.34 L469.71,226.35 L471.37,225.36 L473.03,224.36 L474.69,223.37 L476.35,222.37 L478.00,221.37 L479.66,220.36 L481.32,219.36 L482.98,218.35 L484.64,217.34 L486.30,216.32 L487.96,215.31 L489.62,214.29 L491.28,213.27 L492.94,212.25 L494.60,211.23 L496.26,210.20 L497.92,209.18 L499.58,208.15 L501.24,207.11 L502.90,206.08 L504.56,205.05 L506.22,204.01 L507.88,202.97 L509.54,201.93 L511.20,200.88 L512.86,199.84 L514.52,198.79 L516.18,197.74 L517.84,196.69 L519.49,195.64 L521.15,194.59 L522.81,193.53 L524.47,192.47 L526.13,191.41 L527.79,190.35 L529.45,189.29 L531.11,188.22 L532.77,187.16 L534.43,186.09 L536.09,185.02 L537.75,183.95 L539.41,182.88 L541.07,181.80 L542.73,180.73 L544.39,179.65 L546.05,178.57 L547.71,177.49 L549.37,176.41 L551.03,175.33 L552.69,174.24 L554.35,173.16 L556.01,172.07 L557.67,170.98 L559.33,169.89 L560.98,168.80 L562.64,167.70 L564.30,166.61 L565.96,165.51 L567.62,164.42 L569.28,163.32 L570.94,162.22 L572.60,161.12 L574.26,160.02 L575.92,158.91 L577.58,157.81 L579.24,156.70 L580.90,155.59 L582.56,154.49 L584.22,153.38 L585.88,152.26 L587.54,151.15 L589.20,150.04 L590.86,148.92 L592.52,147.81 L594.18,146.69 L595.84,145.57 L597.50,144.46 L599.16,143.34 L600.82,142.21 L602.47,141.09 L604.13,139.97 L605.79,138.84 L607.45,137.72 L609.11,136.59 L610.77,135.46 L612.43,134.34 L614.09,133.21 L615.75,132.08 L617.41,130.94 L619.07,129.81 L620.73,128.68 L622.39,127.54 L624.05,126.41 L625.71,125.27 L627.37,124.13 L629.03,123.00 L630.69,121.86 L632.35,120.72 L634.01,119.58 L635.67,118.43 L637.33,117.29 L638.99,116.15 L640.65,115.00 L642.31,113.86 L643.96,112.71 L645.62,111.56 L647.28,110.41 L648.94,109.27 L650.60,108.12 L652.26,106.97 L653.92,105.81 L655.58,104.66 L657.24,103.51 L658.90,102.35 L660.56,101.20 L662.22,100.04 L663.88,98.89 L665.54,97.73 L667.20,96.57 L668.86,95.42 L670.52,94.26 L672.18,93.10 L673.84,91.94 L675.50,90.77 L677.16,89.61 L678.82,88.45 L680.48,87.29 L682.14,86.12 L683.80,84.96 L685.45,83.79 L687.11,82.62 L688.77,81.46 L690.43,80.29 L692.09,79.12 L693.75,77.95 L695.41,76.78 L697.07,75.61 L698.73,74.44 L700.39,73.27 L702.05,72.10 L703.71,70.92 L705.37,69.75 L707.03,68.58 L708.69,67.40 L710.35,66.23 L712.01,65.05 L713.67,63.87 L715.33,62.70 L716.99,61.52 L718.65,60.34 L720.31,59.16 L721.97,57.98 L723.63,56.80 L725.29,55.62 L726.94,54.44 L728.60,53.26 L730.26,52.07 L731.92,50.89 L733.58,49.71 L735.24,48.52 L736.90,47.34 L738.56,46.15 L740.22,44.97 L741.88,43.78 L743.54,42.59 L745.20,41.41 L746.86,40.22 L748.52,39.03 L750.18,37.84 L751.84,36.65 L753.50,35.46" stroke="#00b800" stroke-width="3.1" stroke-dasharray="4.2 3.376" stroke-dashoffset="1.49"/>
<path d="M-6.60,332.95 L-4.94,334.17 L-3.28,335.38 L-1.62,336.60 L0.04,337.80 L1.70,339.01 L3.36,340.21 L5.02,341.41 L6.68,342.60 L8.34,343.79 L10.00,344.98 L11.66,346.16 L13.32,347.34 L14.98,348.51 L16.64,349.67 L18.30,350.84 L19.96,351.99 L21.61,353.14 L23.27,354.28 L24.93,355.42 L26.59,356.55 L28.25,357.68 L29.91,358.80 L31.57,359.91 L33.23,361.01 L34.89,362.11 L36.55,363.19 L38.21,364.27 L39.87,365.35 L41.53,366.41 L43.19,367.47 L44.85,368.51 L46.51,369.55 L48.17,370.58 L49.83,371.60 L51.49,372.61 L53.15,373.61 L54.81,374.60 L56.47,375.58 L58.13,376.54 L59.79,377.50 L61.45,378.45 L63.10,379.39 L64.76,380.31 L66.42,381.23 L68.08,382.13 L69.74,383.02 L71.40,383.90 L73.06,384.77 L74.72,385.62 L76.38,386.46 L78.04,387.29 L79.70,388.11 L81.36,388.91 L83.02,389.70 L84.68,390.48 L86.34,391.25 L88.00,392.00 L89.66,392.73 L91.32,393.46 L92.98,394.17 L94.64,394.86 L96.30,395.54 L97.96,396.21 L99.62,396.86 L101.28,397.50 L102.94,398.12 L104.59,398.73 L106.25,399.32 L107.91,399.90 L109.57,400.47 L111.23,401.01 L112.89,401.55 L114.55,402.06 L116.21,402.57 L117.87,403.05 L119.53,403.52 L121.19,403.98 L122.85,404.42 L124.51,404.84 L126.17,405.25 L127.83,405.64 L129.49,406.01 L131.15,406.37 L132.81,406.71 L134.47,407.04 L136.13,407.35 L137.79,407.64 L139.45,407.92 L141.11,408.18 L142.77,408.42 L144.43,408.65 L146.08,408.86 L147.74,409.05 L149.40,409.23 L151.06,409.39 L152.72,409.53 L154.38,409.66 L156.04,409.77 L157.70,409.86 L159.36,409.94 L161.02,409.99 L162.68,410.04 L164.34,410.06 L166.00,410.07 L167.66,410.06 L169.32,410.04 L170.98,409.99 L172.64,409.94 L174.30,409.86 L175.96,409.77 L177.62,409.66 L179.28,409.53 L180.94,409.39 L182.60,409.23 L184.26,409.05 L185.92,408.86 L187.57,408.65 L189.23,408.42 L190.89,408.18 L192.55,407.92 L194.21,407.64 L195.87,407.35 L197.53,407.04 L199.19,406.71 L200.85,406.37 L202.51,406.01 L204.17,405.64 L205.83,405.25 L207.49,404.84 L209.15,404.42 L210.81,403.98 L212.47,403.52 L214.13,403.05 L215.79,402.57 L217.45,402.06 L219.11,401.55 L220.77,401.01 L222.43,400.47 L224.09,399.90 L225.75,399.32 L227.41,398.73 L229.06,398.12 L230.72,397.50 L232.38,396.86 L234.04,396.21 L235.70,395.54 L237.36,394.86 L239.02,394.17 L240.68,393.46 L242.34,392.73 L244.00,392.00 L245.66,391.25 L247.32,390.48 L248.98,389.70 L250.64,388.91 L252.30,388.11 L253.96,387.29 L255.62,386.46 L257.28,385.62 L258.94,384.77 L260.60,383.90 L262.26,383.02 L263.92,382.13 L265.58,381.23 L267.24,380.31 L268.90,379.39 L270.55,378.45 L272.21,377.50 L273.87,376.54 L275.53,375.58 L277.19,374.60 L278.85,373.61 L280.51,372.61 L282.17,371.60 L283.83,370.58 L285.49,369.55 L287.15,368.51 L288.81,367.47 L290.47,366.41 L292.13,365.35 L293.79,364.27 L295.45,363.19 L297.11,362.11 L298.77,361.01 L300.43,359.91 L302.09,358.80 L303.75,357.68 L305.41,356.55 L307.07,355.42 L308.73,354.28 L310.39,353.14 L312.04,351.99 L313.70,350.84 L315.36,349.67 L317.02,348.51 L318.68,347.34 L320.34,346.16 L322.00,344.98 L323.66,343.79 L325.32,342.60 L326.98,341.41 L328.64,340.21 L330.30,339.01 L331.96,337.80 L333.62,336.60 L335.28,335.38 L336.94,334.17 L338.60,332.95 L340.26,331.73 L341.92,330.51 L343.58,329.29 L345.24,328.06 L346.90,326.83 L348.56,325.60 L350.22,324.37 L351.88,323.14 L353.53,321.90 L355.19,320.67 L356.85,319.43 L358.51,318.19 L360.17,316.96 L361.83,315.72 L363.49,314.48 L365.15,313.24 L366.81,312.00 L368.47,310.77 L370.13,309.53 L371.79,308.29 L373.45,307.05 L375.11,305.81 L376.77,304.58 L378.43,303.34 L380.09,302.10 L381.75,300.87 L383.41,299.63 L385.07,298.40 L386.73,297.17 L388.39,295.94 L390.05,294.71 L391.71,293.48 L393.37,292.25 L395.02,291.02 L396.68,289.80 L398.34,288.58 L400.00,287.35 L401.66,286.13 L403.32,284.91 L404.98,283.70 L406.64,282.48 L408.30,281.27 L409.96,280.05 L411.62,278.84 L413.28,277.63 L414.94,276.42 L416.60,275.22 L418.26,274.01 L419.92,272.81 L421.58,271.61 L423.24,270.41 L424.90,269.21 L426.56,268.02 L428.22,266.82 L429.88,265.63 L431.54,264.44 L433.20,263.25 L434.86,262.06 L436.51,260.88 L438.17,259.69 L439.83,258.51 L441.49,257.33 L443.15,256.15 L444.81,254.97 L446.47,253.79 L448.13,252.62 L449.79,251.44 L451.45,250.27 L453.11,249.10 L454.77,247.93 L456.43,246.76 L458.09,245.59 L459.75,244.43 L461.41,243.26 L463.07,242.10 L464.73,240.94 L466.39,239.78 L468.05,238.62 L469.71,237.46 L471.37,236.30 L473.03,235.14 L474.69,233.99 L476.35,232.83 L478.00,231.68 L479.66,230.53 L481.32,229.37 L482.98,228.22 L484.64,227.07 L486.30,225.92 L487.96,224.77 L489.62,223.63 L491.28,222.48 L492.94,221.33 L494.60,220.18 L496.26,219.04 L497.92,217.89 L499.58,216.75 L501.24,215.60 L502.90,214.46 L504.56,213.32 L506.22,212.17 L507.88,211.03 L509.54,209.89 L511.20,208.75 L512.86,207.60 L514.52,206.46 L516.18,205.32 L517.84,204.18 L519.49,203.04 L521.15,201.90 L522.81,200.76 L524.47,199.62 L526.13,198.48 L527.79,197.33 L529.45,196.19 L531.11,195.05 L532.77,193.91 L534.43,192.77 L536.09,191.63 L537.75,190.49 L539.41,189.35 L541.07,188.21 L542.73,187.07 L544.39,185.92 L546.05,184.78 L547.71,183.64 L549.37,182.50 L551.03,181.36 L552.69,180.21 L554.35,179.07 L556.01,177.93 L557.67,176.78 L559.33,175.64 L560.98,174.50 L562.64,173.35 L564.30,172.21 L565.96,171.06 L567.62,169.91 L569.28,168.77 L570.94,167.62 L572.60,166.47 L574.26,165.33 L575.92,164.18 L577.58,163.03 L579.24,161.88 L580.90,160.73 L582.56,159.58 L584.22,158.43 L585.88,157.28 L587.54,156.13 L589.20,154.98 L590.86,153.83 L592.52,152.67 L594.18,151.52 L595.84,150.37 L597.50,149.21 L599.16,148.06 L600.82,146.90 L602.47,145.75 L604.13,144.59 L605.79,143.43 L607.45,142.27 L609.11,141.12 L610.77,139.96 L612.43,138.80 L614.09,137.64 L615.75,136.48 L617.41,135.32 L619.07,134.15 L620.73,132.99 L622.39,131.83 L624.05,130.67 L625.71,129.50 L627.37,128.34 L629.03,127.17 L630.69,126.01 L632.35,124.84 L634.01,123.67 L635.67,122.50 L637.33,121.34 L638.99,120.17 L640.65,119.00 L642.31,117.83 L643.96,116.66 L645.62,115.49 L647.28,114.31 L648.94,113.14 L650.60,111.97 L652.26,110.80 L653.92,109.62 L655.58,108.45 L657.24,107.27 L658.90,106.10 L660.56,104.92 L662.22,103.74 L663.88,102.56 L665.54,101.39 L667.20,100.21 L668.86,99.03 L670.52,97.85 L672.18,96.67 L673.84,95.49 L675.50,94.30 L677.16,93.12 L678.82,91.94 L680.48,90.76 L682.14,89.57 L683.80,88.39 L685.45,87.20 L687.11,86.02 L688.77,84.83 L690.43,83.65 L692.09,82.46 L693.75,81.27 L695.41,80.08 L697.07,78.89 L698.73,77.71 L700.39,76.52 L702.05,75.33 L703.71,74.14 L705.37,72.94 L707.03,71.75 L708.69,70.56 L710.35,69.37 L712.01,68.17 L713.67,66.98 L715.33,65.79 L716.99,64.59 L718.65,63.40 L720.31,62.20 L721.97,61.01 L723.63,59.81 L725.29,58.61 L726.94,57.41 L728.60,56.22 L730.26,55.02 L731.92,53.82 L733.58,52.62 L735.24,51.42 L736.90,50.22 L738.56,49.02 L740.22,47.82 L741.88,46.62 L743.54,45.42 L745.20,44.21 L746.86,43.01 L748.52,41.81 L750.18,40.60 L751.84,39.40 L753.50,38.20" stroke="#0000ff" stroke-width="3.2" stroke-dasharray="14 7.63" stroke-dashoffset="14.51"/>
<path d="M-6.60,325.33 L-4.94,326.42 L-3.28,327.51 L-1.62,328.59 L0.04,329.67 L1.70,330.74 L3.36,331.81 L5.02,332.88 L6.68,333.94 L8.34,335.00 L10.00,336.05 L11.66,337.10 L13.32,338.15 L14.98,339.19 L16.64,340.22 L18.30,341.25 L19.96,342.27 L21.61,343.28 L23.27,344.30 L24.93,345.30 L26.59,346.30 L28.25,347.29 L29.91,348.28 L31.57,349.25 L33.23,350.23 L34.89,351.19 L36.55,352.15 L38.21,353.10 L39.87,354.04 L41.53,354.97 L43.19,355.90 L44.85,356.82 L46.51,357.73 L48.17,358.63 L49.83,359.53 L51.49,360.41 L53.15,361.29 L54.81,362.15 L56.47,363.01 L58.13,363.86 L59.79,364.70 L61.45,365.53 L63.10,366.35 L64.76,367.16 L66.42,367.95 L68.08,368.74 L69.74,369.52 L71.40,370.29 L73.06,371.05 L74.72,371.79 L76.38,372.53 L78.04,373.25 L79.70,373.97 L81.36,374.67 L83.02,375.36 L84.68,376.04 L86.34,376.71 L88.00,377.36 L89.66,378.01 L91.32,378.64 L92.98,379.26 L94.64,379.86 L96.30,380.46 L97.96,381.04 L99.62,381.61 L101.28,382.16 L102.94,382.71 L104.59,383.24 L106.25,383.76 L107.91,384.26 L109.57,384.75 L111.23,385.23 L112.89,385.70 L114.55,386.15 L116.21,386.58 L117.87,387.01 L119.53,387.42 L121.19,387.82 L122.85,388.20 L124.51,388.57 L126.17,388.92 L127.83,389.26 L129.49,389.59 L131.15,389.90 L132.81,390.20 L134.47,390.49 L136.13,390.75 L137.79,391.01 L139.45,391.25 L141.11,391.48 L142.77,391.69 L144.43,391.89 L146.08,392.07 L147.74,392.24 L149.40,392.40 L151.06,392.54 L152.72,392.66 L154.38,392.77 L156.04,392.87 L157.70,392.95 L159.36,393.01 L161.02,393.06 L162.68,393.10 L164.34,393.12 L166.00,393.13 L167.66,393.12 L169.32,393.10 L170.98,393.06 L172.64,393.01 L174.30,392.95 L175.96,392.87 L177.62,392.77 L179.28,392.66 L180.94,392.54 L182.60,392.40 L184.26,392.24 L185.92,392.07 L187.57,391.89 L189.23,391.69 L190.89,391.48 L192.55,391.25 L194.21,391.01 L195.87,390.75 L197.53,390.49 L199.19,390.20 L200.85,389.90 L202.51,389.59 L204.17,389.26 L205.83,388.92 L207.49,388.57 L209.15,388.20 L210.81,387.82 L212.47,387.42 L214.13,387.01 L215.79,386.58 L217.45,386.15 L219.11,385.70 L220.77,385.23 L222.43,384.75 L224.09,384.26 L225.75,383.76 L227.41,383.24 L229.06,382.71 L230.72,382.16 L232.38,381.61 L234.04,381.04 L235.70,380.46 L237.36,379.86 L239.02,379.26 L240.68,378.64 L242.34,378.01 L244.00,377.36 L245.66,376.71 L247.32,376.04 L248.98,375.36 L250.64,374.67 L252.30,373.97 L253.96,373.25 L255.62,372.53 L257.28,371.79 L258.94,371.05 L260.60,370.29 L262.26,369.52 L263.92,368.74 L265.58,367.95 L267.24,367.16 L268.90,366.35 L270.55,365.53 L272.21,364.70 L273.87,363.86 L275.53,363.01 L277.19,362.15 L278.85,361.29 L280.51,360.41 L282.17,359.53 L283.83,358.63 L285.49,357.73 L287.15,356.82 L288.81,355.90 L290.47,354.97 L292.13,354.04 L293.79,353.10 L295.45,352.15 L297.11,351.19 L298.77,350.23 L300.43,349.25 L302.09,348.28 L303.75,347.29 L305.41,346.30 L307.07,345.30 L308.73,344.30 L310.39,343.28 L312.04,342.27 L313.70,341.25 L315.36,340.22 L317.02,339.19 L318.68,338.15 L320.34,337.10 L322.00,336.05 L323.66,335.00 L325.32,333.94 L326.98,332.88 L328.64,331.81 L330.30,330.74 L331.96,329.67 L333.62,328.59 L335.28,327.51 L336.94,326.42 L338.60,325.33 L340.26,324.24 L341.92,323.14 L343.58,322.04 L345.24,320.94 L346.90,319.84 L348.56,318.73 L350.22,317.62 L351.88,316.51 L353.53,315.40 L355.19,314.28 L356.85,313.16 L358.51,312.04 L360.17,310.92 L361.83,309.79 L363.49,308.67 L365.15,307.54 L366.81,306.41 L368.47,305.28 L370.13,304.15 L371.79,303.02 L373.45,301.89 L375.11,300.75 L376.77,299.62 L378.43,298.48 L380.09,297.35 L381.75,296.21 L383.41,295.07 L385.07,293.94 L386.73,292.80 L388.39,291.66 L390.05,290.52 L391.71,289.38 L393.37,288.24 L395.02,287.10 L396.68,285.96 L398.34,284.82 L400.00,283.68 L401.66,282.54 L403.32,281.40 L404.98,280.26 L406.64,279.12 L408.30,277.98 L409.96,276.84 L411.62,275.70 L413.28,274.57 L414.94,273.43 L416.60,272.29 L418.26,271.15 L419.92,270.01 L421.58,268.87 L423.24,267.74 L424.90,266.60 L426.56,265.46 L428.22,264.33 L429.88,263.19 L431.54,262.06 L433.20,260.92 L434.86,259.79 L436.51,258.65 L438.17,257.52 L439.83,256.39 L441.49,255.25 L443.15,254.12 L444.81,252.99 L446.47,251.86 L448.13,250.72 L449.79,249.59 L451.45,248.46 L453.11,247.33 L454.77,246.20 L456.43,245.07 L458.09,243.94 L459.75,242.81 L461.41,241.68 L463.07,240.55 L464.73,239.43 L466.39,238.30 L468.05,237.17 L469.71,236.04 L471.37,234.91 L473.03,233.79 L474.69,232.66 L476.35,231.53 L478.00,230.40 L479.66,229.28 L481.32,228.15 L482.98,227.02 L484.64,225.90 L486.30,224.77 L487.96,223.64 L489.62,222.52 L491.28,221.39 L492.94,220.26 L494.60,219.14 L496.26,218.01 L497.92,216.88 L499.58,215.76 L501.24,214.63 L502.90,213.50 L504.56,212.37 L506.22,211.25 L507.88,210.12 L509.54,208.99 L511.20,207.86 L512.86,206.73 L514.52,205.61 L516.18,204.48 L517.84,203.35 L519.49,202.22 L521.15,201.09 L522.81,199.96 L524.47,198.83 L526.13,197.70 L527.79,196.57 L529.45,195.44 L531.11,194.31 L532.77,193.18 L534.43,192.04 L536.09,190.91 L537.75,189.78 L539.41,188.64 L541.07,187.51 L542.73,186.38 L544.39,185.24 L546.05,184.11 L547.71,182.97 L549.37,181.84 L551.03,180.70 L552.69,179.56 L554.35,178.43 L556.01,177.29 L557.67,176.15 L559.33,175.01 L560.98,173.87 L562.64,172.73 L564.30,171.59 L565.96,170.45 L567.62,169.31 L569.28,168.17 L570.94,167.02 L572.60,165.88 L574.26,164.74 L575.92,163.59 L577.58,162.45 L579.24,161.30 L580.90,160.15 L582.56,159.01 L584.22,157.86 L585.88,156.71 L587.54,155.56 L589.20,154.42 L590.86,153.27 L592.52,152.12 L594.18,150.96 L595.84,149.81 L597.50,148.66 L599.16,147.51 L600.82,146.35 L602.47,145.20 L604.13,144.05 L605.79,142.89 L607.45,141.73 L609.11,140.58 L610.77,139.42 L612.43,138.26 L614.09,137.11 L615.75,135.95 L617.41,134.79 L619.07,133.63 L620.73,132.47 L622.39,131.30 L624.05,130.14 L625.71,128.98 L627.37,127.82 L629.03,126.65 L630.69,125.49 L632.35,124.32 L634.01,123.16 L635.67,121.99 L637.33,120.82 L638.99,119.66 L640.65,118.49 L642.31,117.32 L643.96,116.15 L645.62,114.98 L647.28,113.81 L648.94,112.64 L650.60,111.47 L652.26,110.29 L653.92,109.12 L655.58,107.95 L657.24,106.77 L658.90,105.60 L660.56,104.42 L662.22,103.25 L663.88,102.07 L665.54,100.90 L667.20,99.72 L668.86,98.54 L670.52,97.36 L672.18,96.18 L673.84,95.00 L675.50,93.82 L677.16,92.64 L678.82,91.46 L680.48,90.28 L682.14,89.09 L683.80,87.91 L685.45,86.73 L687.11,85.54 L688.77,84.36 L690.43,83.17 L692.09,81.99 L693.75,80.80 L695.41,79.61 L697.07,78.43 L698.73,77.24 L700.39,76.05 L702.05,74.86 L703.71,73.67 L705.37,72.48 L707.03,71.29 L708.69,70.10 L710.35,68.91 L712.01,67.72 L713.67,66.53 L715.33,65.33 L716.99,64.14 L718.65,62.95 L720.31,61.75 L721.97,60.56 L723.63,59.36 L725.29,58.17 L726.94,56.97 L728.60,55.78 L730.26,54.58 L731.92,53.38 L733.58,52.18 L735.24,50.98 L736.90,49.79 L738.56,48.59 L740.22,47.39 L741.88,46.19 L743.54,44.99 L745.20,43.79 L746.86,42.58 L748.52,41.38 L750.18,40.18 L751.84,38.98 L753.50,37.77" stroke="#ff0000" stroke-width="4.5"/>
</g>
<g opacity="0.999">
<line x1="221" y1="52.6" x2="350" y2="52.6" stroke="#ff0000" stroke-width="4.5"/>
<line x1="221.8" y1="96.4" x2="350" y2="96.4" stroke="#0000ff" stroke-width="3.2" stroke-dasharray="14 7.63"/>
<line x1="221.8" y1="140" x2="348" y2="140" stroke="#00b800" stroke-width="3.2" stroke-dasharray="4.1 3.5"/>
<text transform="translate(368.96,58.70) scale(0.8515,1)" font-family="Liberation Sans" font-style="normal" font-size="24.30" fill="#262626" style="font-kerning:none">SI</text>
<text transform="translate(396.08,57.05) scale(0.8031,1)" font-family="Liberation Serif" font-style="normal" font-size="23.27" fill="#000000" style="font-kerning:none"  stroke="#000000" stroke-width="0.2">(</text>
<text transform="translate(406.44,58.70) scale(1.0893,1)" font-family="Liberation Serif" font-style="italic" font-size="24.36" fill="#000000" style="font-kerning:none" >k</text>
<text transform="translate(426.39,62.25) scale(1.4942,1)" font-family="Liberation Serif" font-style="normal" font-size="25.60" fill="#000000" style="font-kerning:none" stroke="none">=</text>
<text transform="translate(454.04,58.86) scale(1.0810,1)" font-family="Liberation Serif" font-style="normal" font-size="24.41" fill="#000000" style="font-kerning:none"  stroke="#000000" stroke-width="0.2">3</text>
<text transform="translate(470.21,57.05) scale(0.7864,1)" font-family="Liberation Serif" font-style="normal" font-size="23.27" fill="#000000" style="font-kerning:none"  stroke="#000000" stroke-width="0.2">)</text>
<text transform="translate(368.60,103.00) scale(1.0640,1)" font-family="Liberation Sans" font-style="normal" font-size="24.30" fill="#262626" style="font-kerning:none">2AU</text>
<text transform="translate(427.28,101.15) scale(0.8031,1)" font-family="Liberation Serif" font-style="normal" font-size="23.27" fill="#000000" style="font-kerning:none"  stroke="#000000" stroke-width="0.2">(</text>
<text transform="translate(437.64,102.80) scale(1.0893,1)" font-family="Liberation Serif" font-style="italic" font-size="24.36" fill="#000000" style="font-kerning:none" >k</text>
<text transform="translate(457.59,106.35) scale(1.4942,1)" font-family="Liberation Serif" font-style="normal" font-size="25.60" fill="#000000" style="font-kerning:none" stroke="none">=</text>
<text transform="translate(485.24,102.96) scale(1.0810,1)" font-family="Liberation Serif" font-style="normal" font-size="24.41" fill="#000000" style="font-kerning:none"  stroke="#000000" stroke-width="0.2">3</text>
<text transform="translate(501.41,101.15) scale(0.7864,1)" font-family="Liberation Serif" font-style="normal" font-size="23.27" fill="#000000" style="font-kerning:none"  stroke="#000000" stroke-width="0.2">)</text>
<text transform="translate(368.70,146.50) scale(0.9810,1)" font-family="Liberation Sans" font-style="normal" font-size="24.30" fill="#262626" style="font-kerning:none">2BP</text>
<line x1="431.4" y1="416.2" x2="560" y2="416.2" stroke="#6666ff" stroke-width="2.3" stroke-dasharray="13 19.55"/>
<line x1="431.4" y1="458.8" x2="560" y2="458.8" stroke="#5cb85c" stroke-width="2.3" stroke-dasharray="3.5 8.4"/>
<text transform="translate(578.75,422.20) scale(1.0240,1)" font-family="Liberation Sans" font-style="normal" font-size="24.30" fill="#262626" style="font-kerning:none">AU</text>
<text transform="translate(621.78,420.55) scale(0.8031,1)" font-family="Liberation Serif" font-style="normal" font-size="23.27" fill="#000000" style="font-kerning:none"  stroke="#000000" stroke-width="0.2">(</text>
<text transform="translate(632.14,422.20) scale(1.0893,1)" font-family="Liberation Serif" font-style="italic" font-size="24.36" fill="#000000" style="font-kerning:none" >k</text>
<text transform="translate(652.09,425.75) scale(1.4942,1)" font-family="Liberation Serif" font-style="normal" font-size="25.60" fill="#000000" style="font-kerning:none" stroke="none">=</text>
<text transform="translate(679.74,422.36) scale(1.0810,1)" font-family="Liberation Serif" font-style="normal" font-size="24.41" fill="#000000" style="font-kerning:none"  stroke="#000000" stroke-width="0.2">3</text>
<text transform="translate(695.91,420.55) scale(0.7864,1)" font-family="Liberation Serif" font-style="normal" font-size="23.27" fill="#000000" style="font-kerning:none"  stroke="#000000" stroke-width="0.2">)</text>
<text transform="translate(578.11,464.40) scale(0.9506,1)" font-family="Liberation Sans" font-style="normal" font-size="24.30" fill="#262626" style="font-kerning:none">BP</text>
<text transform="translate(698.05,513.81) scale(1.2852,1)" font-family="Liberation Serif" font-style="italic" font-size="29.28" fill="#000" style="font-kerning:none" >∂</text>
<text transform="translate(717.64,513.60) scale(1.0386,1)" font-family="Liberation Serif" font-style="italic" font-size="30.70" fill="#000" style="font-kerning:none" >H</text>
</g>
</svg>
</body></html>
